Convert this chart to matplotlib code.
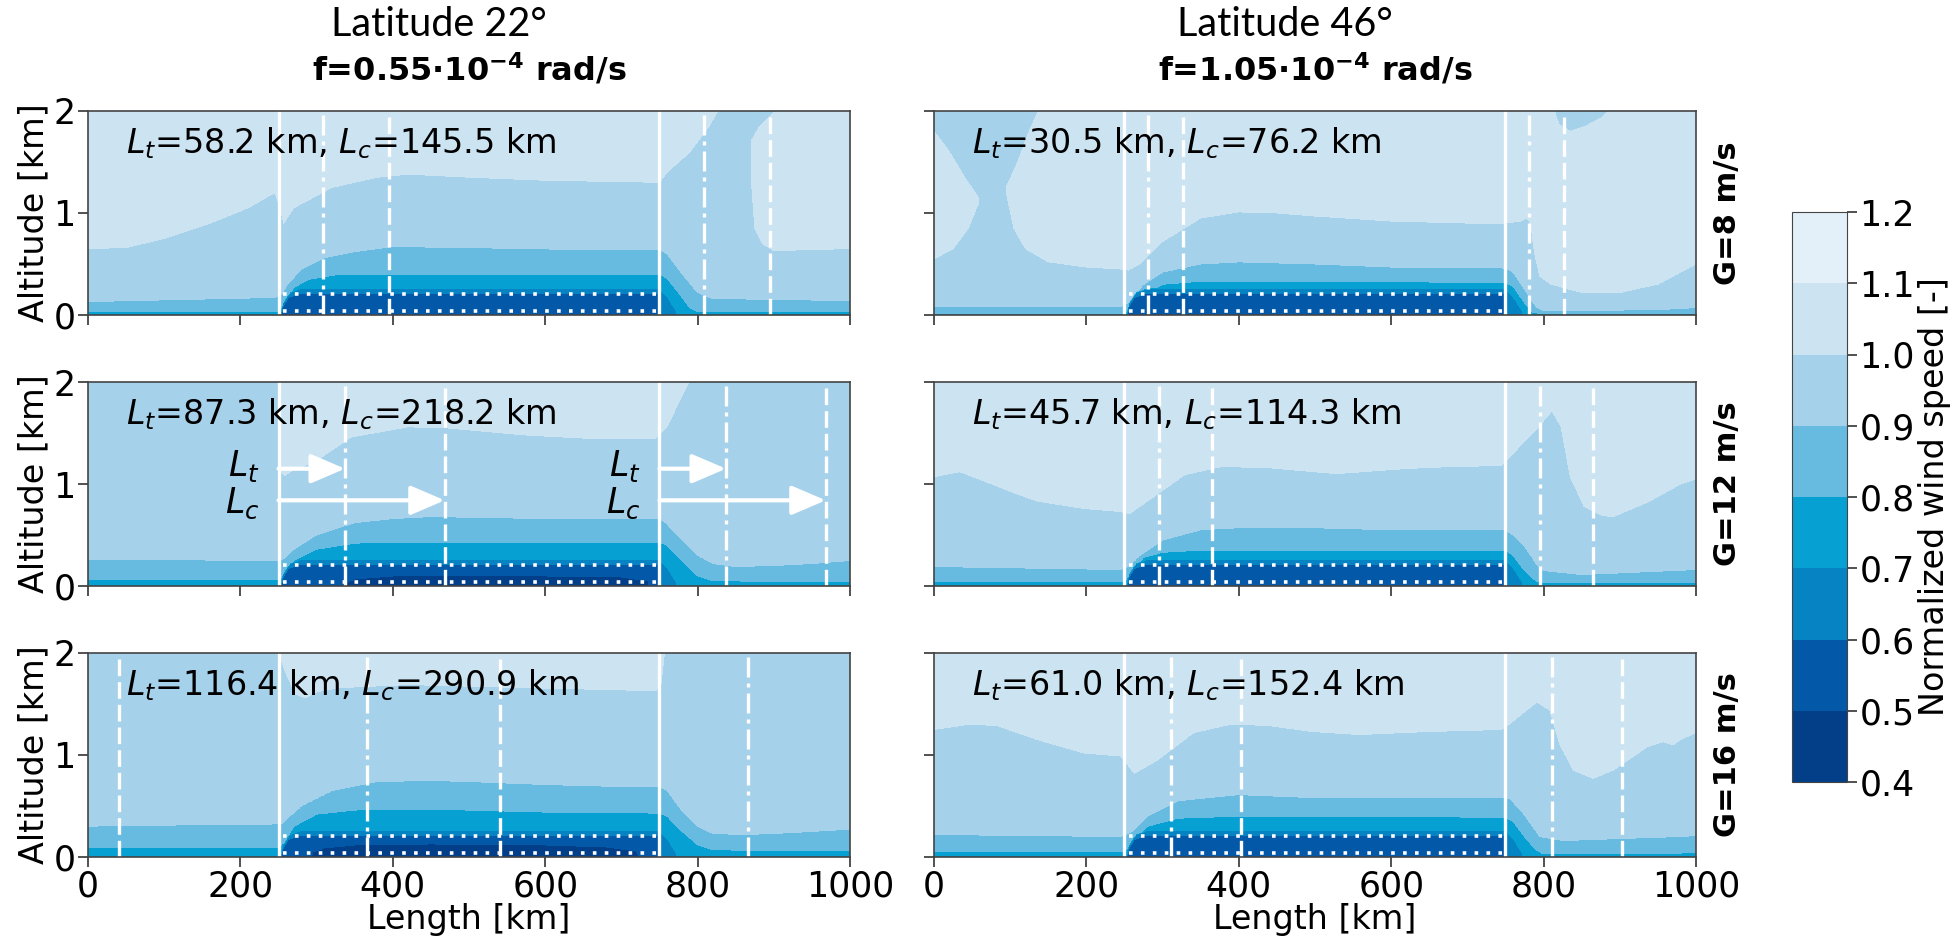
import numpy as np
import matplotlib
matplotlib.use("Agg")
import matplotlib.pyplot as plt

# ---------------------------------------------------------------- data
LEVELS = [0.4, 0.5, 0.6, 0.7, 0.8, 0.9, 1.0, 1.1, 1.2]
BAND_COLORS = ["#023f88", "#0458a8", "#0683c3", "#06a0d3",
               "#67bbe0", "#a6d1ea", "#cce3f2", "#e3f0f9"]
THRESHOLDS = [0.5, 0.6, 0.7, 0.8, 0.9, 1.0]

LATITUDES = ["Latitude 22°", "Latitude 46°"]
CORIOLIS = [r"f=0.55·10$^{\mathbf{-4}}$ rad/s", r"f=1.05·10$^{\mathbf{-4}}$ rad/s"]
GEO_WIND = ["G=8 m/s", "G=12 m/s", "G=16 m/s"]
L_T = [[58.2, 30.5], [87.3, 45.7], [116.4, 61.0]]
L_C = [[145.5, 76.2], [218.2, 114.3], [290.9, 152.4]]
FARM_EDGES = [250, 750]
ROTOR_LAYER = [0.04, 0.21]
X_TICKS = [0, 200, 400, 600, 800, 1000]
Z_TICKS = [0, 1, 2]

# heights (km) of iso-speed surfaces along the domain, (x km, z km)
FARM_Z06 = [(0, -0.2), (250, -0.2), (255, 0.08), (262, 0.17), (275, 0.21),
            (750, 0.21), (753, -0.2), (1000, -0.2)]
FARM_Z07 = [(0, -0.1), (250, -0.1), (256, 0.12), (265, 0.22), (280, 0.26),
            (750, 0.26), (762, 0.16), (772, 0.04), (778, -0.1), (1000, -0.1)]
NO_Z05 = [(0, -0.3), (1000, -0.3)]

# latitude 22, G=8
A_Z08 = [(0, 0.03), (250, 0.035), (258, 0.12), (270, 0.27), (290, 0.35), (330, 0.40),
         (750, 0.40), (760, 0.36), (775, 0.22), (790, 0.07), (800, 0.035), (1000, 0.03)]
A_Z09 = [(0, 0.13), (240, 0.17), (252, 0.18), (262, 0.3), (280, 0.45), (310, 0.56),
         (350, 0.62), (400, 0.67), (500, 0.66), (650, 0.64), (750, 0.64), (760, 0.6),
         (780, 0.4), (800, 0.22), (820, 0.16), (1000, 0.14)]
A_Z10 = [(0, 0.65), (50, 0.66), (100, 0.75), (160, 0.9), (210, 1.05), (245, 1.2),
         (250, 1.1), (257, 0.9), (270, 1.05), (320, 1.25), (380, 1.35), (420, 1.38),
         (500, 1.35), (600, 1.32), (750, 1.3), (760, 1.4), (790, 1.6), (815, 1.85),
         (830, 2.05), (840, 2.5), (869, 2.5), (871, 1.3), (875, 0.85), (885, 0.7),
         (900, 0.63), (1000, 0.65)]
A_CAP = [(0, 3), (869, 3), (870, 1.7), (880, 1.83), (895, 1.95), (910, 2.05),
         (915, 3), (1000, 3)]

# latitude 46, G=8
B_Z08 = [(0, 0.015), (250, 0.015), (258, 0.1), (275, 0.2), (300, 0.3), (350, 0.33),
         (750, 0.32), (760, 0.28), (775, 0.12), (785, 0.03), (795, 0.015), (1000, 0.015)]
B_Z09 = [(0, 0.08), (245, 0.08), (255, 0.12), (262, 0.18), (275, 0.3), (300, 0.42),
         (350, 0.5), (400, 0.52), (500, 0.5), (600, 0.47), (750, 0.46), (760, 0.42),
         (775, 0.25), (790, 0.08), (800, 0.04), (950, 0.05), (1000, 0.07)]
B_Z10 = [(0, 0.55), (25, 0.65), (45, 0.85), (58, 1.1), (59, 2.5), (94, 2.5), (95, 1.2),
         (105, 0.85), (120, 0.65), (150, 0.52), (200, 0.47), (245, 0.45), (255, 0.44),
         (270, 0.5), (300, 0.72), (350, 0.95), (400, 1.01), (450, 1.0), (500, 0.97),
         (600, 0.92), (700, 0.9), (750, 0.9), (770, 0.92), (778, 0.95), (783, 0.9),
         (788, 0.6), (795, 0.38), (810, 0.3), (850, 0.22), (900, 0.22), (950, 0.3),
         (1000, 0.5)]
B_CAP = [(0, 1.8), (20, 1.6), (40, 1.35), (58, 1.15), (59, 3), (94, 3), (95, 1.25),
         (110, 1.5), (125, 1.8), (140, 2.05), (150, 3), (805, 3), (812, 2.05),
         (820, 1.87), (835, 1.8), (855, 1.85), (875, 1.93), (893, 2.05), (900, 3),
         (1000, 3)]

# latitude 22, G=12
C_Z05 = [(0, -0.3), (320, -0.3), (335, 0.02), (350, 0.07), (400, 0.1), (600, 0.1),
         (700, 0.09), (735, 0.05), (748, -0.3), (1000, -0.3)]
C_Z08 = [(0, 0.06), (250, 0.06), (258, 0.12), (270, 0.25), (300, 0.36), (350, 0.42),
         (400, 0.43), (750, 0.43), (760, 0.4), (780, 0.25), (800, 0.1), (820, 0.05),
         (1000, 0.045)]
C_Z09 = [(0, 0.26), (250, 0.25), (258, 0.27), (270, 0.36), (300, 0.5), (350, 0.62),
         (400, 0.66), (450, 0.68), (600, 0.66), (750, 0.66), (758, 0.62), (780, 0.45),
         (800, 0.3), (820, 0.22), (850, 0.19), (900, 0.2), (950, 0.22), (1000, 0.25)]
C_Z10 = [(0, 2.5), (249, 2.5), (251, 1.15), (258, 1.08), (265, 1.12), (300, 1.23),
         (345, 1.46), (420, 1.56), (470, 1.55), (575, 1.48), (650, 1.45), (745, 1.45),
         (760, 1.56), (775, 1.8), (790, 2.02), (800, 2.5), (1000, 2.5)]

# latitude 46, G=12
D_Z08 = [(0, 0.04), (250, 0.04), (260, 0.15), (275, 0.28), (300, 0.33), (350, 0.35),
         (750, 0.35), (760, 0.3), (775, 0.15), (790, 0.05), (800, 0.03), (1000, 0.035)]
D_Z09 = [(0, 0.19), (245, 0.16), (257, 0.2), (270, 0.3), (300, 0.45), (350, 0.55),
         (400, 0.57), (500, 0.57), (600, 0.55), (750, 0.55), (760, 0.5), (775, 0.39),
         (790, 0.22), (800, 0.15), (850, 0.11), (1000, 0.16)]
D_Z10 = [(0, 1.07), (34, 1.12), (76, 1.0), (106, 0.91), (136, 0.83), (196, 0.76),
         (245, 0.73), (257, 0.71), (293, 0.9), (329, 1.09), (377, 1.17), (437, 1.16),
         (528, 1.1), (618, 1.15), (678, 1.17), (744, 1.18), (756, 1.27), (793, 1.56),
         (811, 1.72), (823, 1.56), (835, 1.07), (853, 0.78), (877, 0.69), (891, 0.68),
         (936, 0.82), (980, 1.0), (1000, 1.05)]

# latitude 22, G=16
E_Z05 = [(0, -0.3), (280, -0.3), (295, 0.05), (310, 0.09), (350, 0.12), (450, 0.13),
         (600, 0.12), (680, 0.1), (720, 0.06), (742, -0.3), (1000, -0.3)]
E_Z08 = [(0, 0.09), (250, 0.09), (258, 0.15), (270, 0.3), (300, 0.42), (350, 0.46),
         (400, 0.47), (500, 0.46), (600, 0.44), (750, 0.43), (760, 0.4), (780, 0.25),
         (800, 0.12), (820, 0.07), (1000, 0.06)]
E_Z09 = [(0, 0.3), (100, 0.31), (240, 0.32), (255, 0.33), (265, 0.4), (280, 0.5),
         (320, 0.65), (380, 0.74), (450, 0.75), (500, 0.74), (600, 0.71), (700, 0.69),
         (750, 0.69), (760, 0.65), (780, 0.45), (800, 0.3), (820, 0.23), (860, 0.22),
         (900, 0.23), (950, 0.25), (1000, 0.27)]
E_Z10 = [(0, 2.5), (249, 2.5), (251, 2.0), (260, 1.8), (272, 1.6), (285, 1.56),
         (300, 1.62), (330, 1.66), (420, 1.69), (575, 1.66), (745, 1.63), (752, 1.7),
         (758, 2.1), (770, 2.5), (1000, 2.5)]

# latitude 46, G=16
F_Z08 = [(0, 0.05), (250, 0.05), (260, 0.15), (280, 0.3), (320, 0.38), (400, 0.4),
         (750, 0.39), (760, 0.35), (775, 0.2), (790, 0.07), (800, 0.03), (1000, 0.04)]
F_Z09 = [(0, 0.22), (245, 0.2), (260, 0.25), (280, 0.4), (320, 0.55), (400, 0.61),
         (500, 0.58), (750, 0.58), (756, 0.57), (773, 0.43), (795, 0.2), (826, 0.16),
         (900, 0.18), (979, 0.2), (1000, 0.21)]
F_Z10 = [(0, 1.25), (45, 1.3), (82, 1.29), (136, 1.15), (196, 1.02), (245, 0.99),
         (263, 0.82), (293, 0.95), (341, 1.22), (389, 1.3), (437, 1.29), (497, 1.23),
         (558, 1.2), (648, 1.23), (744, 1.25), (756, 1.31), (791, 1.52), (808, 1.44),
         (821, 1.11), (839, 0.85), (865, 0.77), (891, 0.85), (936, 1.08), (957, 1.13),
         (970, 1.1), (979, 1.15), (1000, 1.22)]

PANELS = [
    [([NO_Z05, FARM_Z06, FARM_Z07, A_Z08, A_Z09, A_Z10], A_CAP),
     ([NO_Z05, FARM_Z06, FARM_Z07, B_Z08, B_Z09, B_Z10], B_CAP)],
    [([C_Z05, FARM_Z06, FARM_Z07, C_Z08, C_Z09, C_Z10], None),
     ([NO_Z05, FARM_Z06, FARM_Z07, D_Z08, D_Z09, D_Z10], None)],
    [([E_Z05, FARM_Z06, FARM_Z07, E_Z08, E_Z09, E_Z10], None),
     ([NO_Z05, FARM_Z06, FARM_Z07, F_Z08, F_Z09, F_Z10], None)],
]

# ---------------------------------------------------------------- field
GRID_X = np.linspace(0, 1000, 1001)
GRID_Z = np.linspace(0, 2, 401)


def along_x(points):
    xs, zs = zip(*points)
    return np.interp(GRID_X, xs, zs)


def wind_field(bounds, cap):
    heights = np.array([along_x(b) for b in bounds])
    for k in range(1, len(heights)):
        heights[k] = np.maximum(heights[k], heights[k - 1] + 0.005)
    top = along_x(cap) if cap is not None else np.full(GRID_X.size, 3.0)
    field = np.empty((GRID_Z.size, GRID_X.size))
    for i in range(GRID_X.size):
        zs = [-1.0] + list(heights[:, i])
        vs = [0.4] + THRESHOLDS
        t = top[i]
        if t < 2.2 and t <= zs[-1] + 0.01:
            zs[-1] = 3.0
        elif t < 2.2:
            zs += [(zs[-1] + t) / 2, t, t + 1.0]
            vs += [1.05, 1.0, 0.9]
        else:
            zs.append(3.0)
            vs.append(1.1)
        field[:, i] = np.interp(GRID_Z, zs, vs)
    return field


# ---------------------------------------------------------------- figure
W, H = 1956, 940
fig = plt.figure(figsize=(W / 100, H / 100), dpi=100)
plt.rcParams["font.family"] = "DejaVu Sans"
plt.rcParams["mathtext.fontset"] = "dejavusans"

col_left = [88, 934]
col_width = 762
row_top = [111, 382, 653]
row_height = 204

FS = 25
line_kw = dict(color="white", lw=2.4)
cs = None
for r in range(3):
    for c in range(2):
        ax = fig.add_axes([col_left[c] / W, 1 - (row_top[r] + row_height) / H,
                           col_width / W, row_height / H])
        bounds, cap = PANELS[r][c]
        cs = ax.contourf(GRID_X, GRID_Z, wind_field(bounds, cap),
                         levels=LEVELS, colors=BAND_COLORS)
        lt, lc = L_T[r][c], L_C[r][c]
        for e in FARM_EDGES:
            ax.axvline(e, **line_kw)
            ax.axvline((e + lt) % 1000, ls=(0, (6, 1.8, 1.2, 1.8)), **line_kw)
            ax.axvline((e + lc) % 1000, ls=(0, (5, 1.8)), **line_kw)
        for zr in ROTOR_LAYER:
            ax.hlines(zr, FARM_EDGES[0] + 6, FARM_EDGES[1], color="white",
                      lw=2.6, ls=(0, (1, 2.3)))
        ax.text(0.05, 0.84, rf"$L_t$={lt:.1f} km, $L_c$={lc:.1f} km",
                transform=ax.transAxes, fontsize=24, va="center")
        if r == 1 and c == 0:
            for e in FARM_EDGES:
                for dist, zz, zlab, lab in ((lt, 1.15, 1.18, r"$L_t$"),
                                            (lc, 0.84, 0.81, r"$L_c$")):
                    ax.annotate("", xy=(e + dist, zz), xytext=(e, zz),
                                arrowprops=dict(arrowstyle="-|>,head_length=0.7,head_width=0.3",
                                                color="white", lw=3, shrinkA=0, shrinkB=0,
                                                mutation_scale=30))
                    ax.text(e - 25, zlab, lab, ha="right", va="center", fontsize=25)
        ax.set_xlim(0, 1000)
        ax.set_ylim(0, 2)
        ax.set_xticks(X_TICKS)
        ax.set_yticks(Z_TICKS)
        ax.tick_params(direction="out", length=7, width=1.2, color="#333333",
                       labelsize=FS, pad=2)
        for s in ax.spines.values():
            s.set_color("#444444")
            s.set_linewidth(1.2)
        if c == 0:
            ax.set_ylabel("Altitude [km]", fontsize=FS - 1, labelpad=2)
        else:
            ax.set_yticklabels([])
        if r == 2:
            ax.set_xlabel("Length [km]", fontsize=FS - 1, labelpad=0)
        else:
            ax.set_xticklabels([])
        if r == 0:
            fig.text((col_left[c] + col_width / 2) / W, 1 - 70 / H, CORIOLIS[c],
                     ha="center", va="center", fontsize=23, fontweight="bold")
            fig.text((col_left[c] + col_width / 2 - 30) / W, 1 - 24 / H, LATITUDES[c],
                     ha="center", va="center", fontsize=28.5, family="Lato")
    fig.text(1728 / W, 1 - (row_top[r] + row_height / 2) / H, GEO_WIND[r],
             rotation=90, ha="center", va="center", fontsize=22, fontweight="bold")

cax = fig.add_axes([1792 / W, 1 - 782 / H, 55 / W, 570 / H])
cb = fig.colorbar(cs, cax=cax, ticks=LEVELS)
cb.ax.set_yticklabels([f"{v:.1f}" for v in LEVELS])
cb.ax.tick_params(labelsize=FS, length=7, width=1.2, color="#333333", pad=2)
cb.outline.set_edgecolor("#444444")
cb.set_label("Normalized wind speed [-]", fontsize=FS - 1, labelpad=2)

fig.savefig("out.png", dpi=100)
